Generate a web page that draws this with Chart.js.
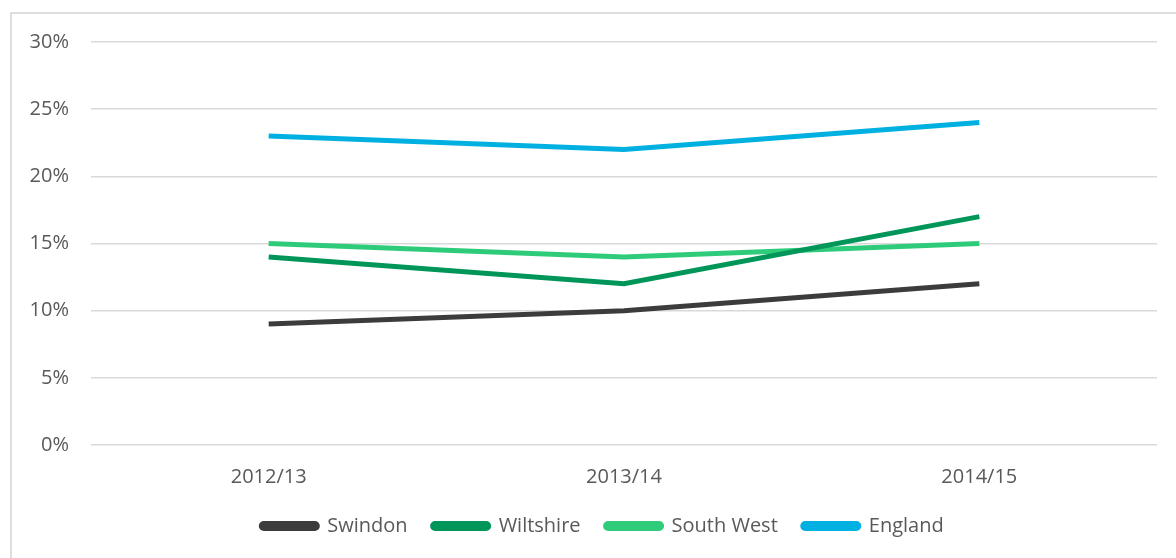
<!DOCTYPE html>
<html lang="en">
<head>
    <meta charset="UTF-8">
    <title>Percentage by area, 2012/13 to 2014/15</title>
    <script src="https://cdn.jsdelivr.net/npm/chart.js@4.4.1/dist/chart.umd.min.js"></script>
    <style>
        html, body { margin: 0; padding: 0; background: #fff; overflow: hidden; }
        .frame {
            position: absolute;
            left: 10px;
            top: 12px;
            width: 1180px;
            height: 560px;
            border: 2px solid #dedede;
        }
        .chart-box { position: relative; width: 1164px; height: 544px; }
    </style>
</head>
<body>
    <div class="frame">
        <div class="chart-box">
            <canvas id="chart"></canvas>
        </div>
    </div>

    <script>
        const years = ['2012/13', '2013/14', '2014/15'];
        const swindon = [9, 10, 12];
        const wiltshire = [14, 12, 17];
        const southWest = [15, 14, 15];
        const england = [23, 22, 24];
        const yTicks = [0, 5, 10, 15, 20, 25, 30];

        const textColour = '#595959';
        const gridColour = '#d9d9d9';

        function series(label, data, colour) {
            return {
                label: label,
                data: data,
                borderColor: colour,
                backgroundColor: colour,
                borderWidth: 5,
                pointRadius: 0,
                pointHoverRadius: 0,
                tension: 0,
                fill: false
            };
        }

        // the legend in the original sits a little right of the canvas centre
        const legendNudge = {
            id: 'legendNudge',
            afterLayout(chart) {
                chart.legend.left += 18;
                chart.legend.right += 18;
            }
        };

        new Chart(document.getElementById('chart'), {
            type: 'line',
            data: {
                labels: years,
                datasets: [
                    series('Swindon', swindon, '#3c3c3c'),
                    series('Wiltshire', wiltshire, '#00965a'),
                    series('South West', southWest, '#2ecc7a'),
                    series('England', england, '#00b0e0')
                ]
            },
            plugins: [legendNudge],
            options: {
                responsive: true,
                maintainAspectRatio: false,
                animation: false,
                layout: { padding: { top: 28, right: 19, bottom: 12, left: 0 } },
                font: { family: '"Open Sans", sans-serif', size: 20 },
                plugins: {
                    tooltip: { enabled: false },
                    legend: {
                        position: 'bottom',
                        labels: {
                            color: textColour,
                            font: { family: '"Open Sans", sans-serif', size: 20 },
                            boxWidth: 56,
                            boxHeight: 5,
                            useBorderRadius: true,
                            borderRadius: 2.5,
                            padding: 25
                        }
                    }
                },
                scales: {
                    x: {
                        offset: true,
                        grid: { display: false },
                        border: { display: false },
                        ticks: {
                            color: textColour,
                            font: { family: '"Open Sans", sans-serif', size: 20 },
                            padding: 12,
                            maxRotation: 0
                        },
                        afterFit: function (scale) { scale.height = 46; }
                    },
                    y: {
                        min: 0,
                        max: 30,
                        afterBuildTicks: function (scale) {
                            scale.ticks = yTicks.map(v => ({ value: v }));
                        },
                        grid: { color: gridColour, lineWidth: 1.5, drawTicks: false },
                        border: { display: false },
                        ticks: {
                            color: textColour,
                            font: { family: '"Open Sans", sans-serif', size: 20 },
                            padding: 22,
                            callback: v => v + '%'
                        },
                        afterFit: function (scale) {
                            scale.width = 79;
                            scale.paddingTop = 0;
                            scale.paddingBottom = 0;
                        }
                    }
                }
            }
        });
    </script>
</body>
</html>
